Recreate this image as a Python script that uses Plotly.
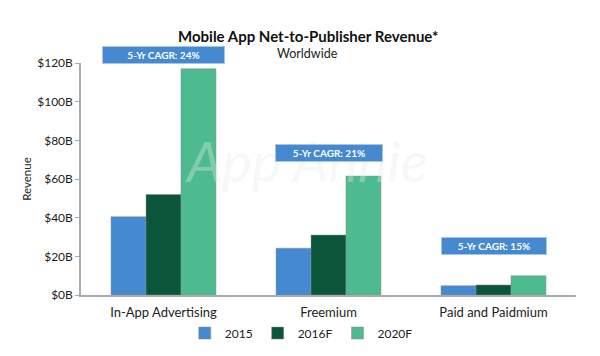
import plotly.graph_objects as go

categories = ["In-App Advertising", "Freemium", "Paid and Paidmium"]
series_names = ["2015", "2016F", "2020F"]
values_2015 = [40.5, 24.2, 4.8]
values_2016 = [52.0, 31.0, 5.2]
values_2020 = [117.0, 61.5, 10.0]
colors = ["#4589d0", "#0b553a", "#4dbb8f"]
cagr_labels = ["5-Yr CAGR: 24%", "5-Yr CAGR: 21%", "5-Yr CAGR: 15%"]
cagr_y = [129.0, 73.5, 20.5]
cagr_w = [119, 104, 102]
tick_vals = [0, 20, 40, 60, 80, 100, 120]
tick_text = ["$0B", "$20B", "$40B", "$60B", "$80B", "$100B", "$120B"]
y_max = 120

FONT = "Lato"

fig = go.Figure()
for name, vals, col in zip(series_names, [values_2015, values_2016, values_2020], colors):
    fig.add_trace(go.Bar(
        x=categories, y=vals, name=name,
        marker=dict(color=col, line=dict(color="rgba(140,140,140,0.6)", width=0.8)),
    ))

annotations = []
# faint watermark (drawn first so it sits under the other texts)
annotations.append(dict(
    x=0.455, y=0.58, xref="paper", yref="paper", text="App Annie",
    showarrow=False, font=dict(family=FONT, size=56, color="rgba(228,234,232,0.35)", style="italic"),
))
for cat, lab, yy, w in zip(categories, cagr_labels, cagr_y, cagr_w):
    annotations.append(dict(
        x=cat, y=yy / y_max, xref="x", yref="y domain", text="<b>" + lab + "</b>",
        showarrow=False, font=dict(family=FONT, size=10, color="white"),
        bgcolor="#4589d0", bordercolor="#a9c4e4", borderwidth=1,
        width=w, height=14, align="center",
    ))
annotations.append(dict(
    x=0.459, y=1.163, xref="paper", yref="paper", text="<b>Mobile App Net-to-Publisher Revenue*</b>",
    showarrow=False, font=dict(family=FONT, size=15, color="#111111"),
))
annotations.append(dict(
    x=0.457, y=1.082, xref="paper", yref="paper", text="Worldwide",
    showarrow=False, font=dict(family=FONT, size=12.5, color="#222222"),
))

fig.update_layout(
    width=600, height=356,
    margin=dict(l=81, r=24, t=63, b=61, autoexpand=False),
    paper_bgcolor="white", plot_bgcolor="white",
    barmode="group", bargap=0.364, bargroupgap=0,
    font=dict(family=FONT, color="#222222"),
    showlegend=True,
    legend=dict(orientation="h", x=0.445, xanchor="center", y=-0.164, yanchor="middle",
                font=dict(family=FONT, size=12, color="#222222"),
                itemwidth=30, tracegroupgap=0),
    annotations=annotations,
)
fig.update_xaxes(
    showline=True, linecolor="#aaaaaa", linewidth=1.5, showgrid=False,
    ticks="", ticklabelstandoff=5, tickfont=dict(family=FONT, size=13, color="#222222"),
)
fig.update_yaxes(
    range=[0, y_max], tickvals=tick_vals, ticktext=tick_text,
    showline=True, linecolor="#aaaaaa", linewidth=1.5, showgrid=False, zeroline=False,
    ticks="outside", ticklen=4, tickcolor="#aaaaaa",
    tickfont=dict(family=FONT, size=12, color="#222222"),
    title=dict(text="Revenue", font=dict(family=FONT, size=11.5, color="#222222"), standoff=3),
)

fig.write_html("out.html", config={"displayModeBar": False},
               post_script="document.body.style.margin='0';")
